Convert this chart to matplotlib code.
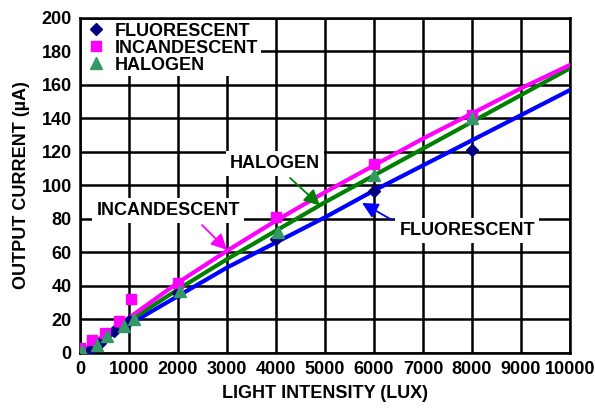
import matplotlib
matplotlib.use('Agg')
import matplotlib.pyplot as plt

# 측정 데이터 (마커)
fluor_x = [200, 400, 700, 1000, 2000, 4000, 6000, 8000]
fluor_y = [2, 6, 13, 19, 36, 68, 97, 121]
incand_x = [0, 250, 500, 800, 1050, 2000, 4000, 6000, 8000]
incand_y = [3, 8, 12, 19, 32, 42, 81, 113, 142]
halogen_x = [50, 350, 550, 900, 1100, 2050, 4050, 6000, 8000]
halogen_y = [1, 5, 10, 16, 20, 37, 72, 106, 140]

# 곡선 (선)
lux_line = [0, 1000, 2000, 3000, 4000, 5000, 6000, 7000, 8000, 9000, 10000]
incand_line = [0, 21, 42, 61, 79, 96, 112, 128, 143, 158, 172]
halogen_line = [0, 19, 38, 56, 73, 90, 106, 122, 138, 154, 170]
fluor_line = [0, 17, 34, 51, 66, 81, 97, 112, 127, 142, 157]

x_ticks = list(range(0, 10001, 1000))
y_ticks = list(range(0, 201, 20))

plt.rcParams['font.family'] = ['Liberation Sans', 'DejaVu Sans']
plt.rcParams['font.weight'] = 'bold'
plt.rcParams['axes.labelweight'] = 'bold'
plt.rcParams['font.size'] = 13

fig = plt.figure(figsize=(5.95, 4.09), dpi=100)
ax = fig.add_axes([0.1345, 0.137, 0.8235, 0.819])

ax.plot(lux_line, fluor_line, color='#0000ff', lw=3, zorder=3)
ax.plot(lux_line, halogen_line, color='#008000', lw=3, zorder=3)
ax.plot(lux_line, incand_line, color='#ff00ff', lw=3, zorder=3)

ax.plot(fluor_x, fluor_y, 'D', color='#000080', ms=6.5, ls='none', label='FLUORESCENT', zorder=4)
ax.plot(incand_x, incand_y, 's', color='#ff00ff', ms=7, ls='none', label='INCANDESCENT', zorder=4)
ax.plot(halogen_x, halogen_y, '^', color='#339966', ms=8, ls='none', label='HALOGEN', zorder=5)

ax.set_xlim(0, 10000)
ax.set_ylim(0, 200)
ax.set_xticks(x_ticks)
ax.set_yticks(y_ticks)
ax.tick_params(length=0, pad=6)
for lab in ax.get_xticklabels() + ax.get_yticklabels():
    lab.set_fontweight('bold')
ax.grid(True, color='black', lw=1.8, zorder=1)
ax.set_axisbelow(True)
for s in ax.spines.values():
    s.set_linewidth(1.8)

ax.set_xlabel('LIGHT INTENSITY (LUX)', labelpad=5, fontweight='bold')
ax.set_ylabel('OUTPUT CURRENT (µA)', labelpad=8, fontweight='bold')

leg = ax.legend(loc='upper left', bbox_to_anchor=(0.0, 1.0), borderaxespad=0.1,
                frameon=True, fancybox=False, edgecolor='none', framealpha=1,
                handletextpad=0.4, labelspacing=0.0, borderpad=0.15, handlelength=1.3,
                prop={'weight': 'bold', 'size': 13})
leg.set_zorder(10)

box = dict(facecolor='white', edgecolor='none', pad=3)
ax.text(3980, 113, 'HALOGEN', ha='center', va='center', bbox=box, zorder=6, fontweight='bold')
ax.text(1800, 85, 'INCANDESCENT', ha='center', va='center', bbox=box, zorder=6, fontweight='bold')
ax.text(7900, 73, 'FLUORESCENT', ha='center', va='center', bbox=box, zorder=6, fontweight='bold')

arrow = dict(arrowstyle='-|>', lw=1.3, mutation_scale=24, shrinkA=0, shrinkB=0)
ax.annotate('', xy=(4898, 88), xytext=(4286, 104.5), zorder=7,
            arrowprops=dict(arrow, color='#008000'))
ax.annotate('', xy=(3000, 61.5), xytext=(2490, 76.4), zorder=7,
            arrowprops=dict(arrow, color='#ff00ff'))
ax.annotate('', xy=(5755, 89.6), xytext=(6367, 79.4), zorder=7,
            arrowprops=dict(arrow, color='#0000ff'))

fig.savefig('out.png', dpi=100)
